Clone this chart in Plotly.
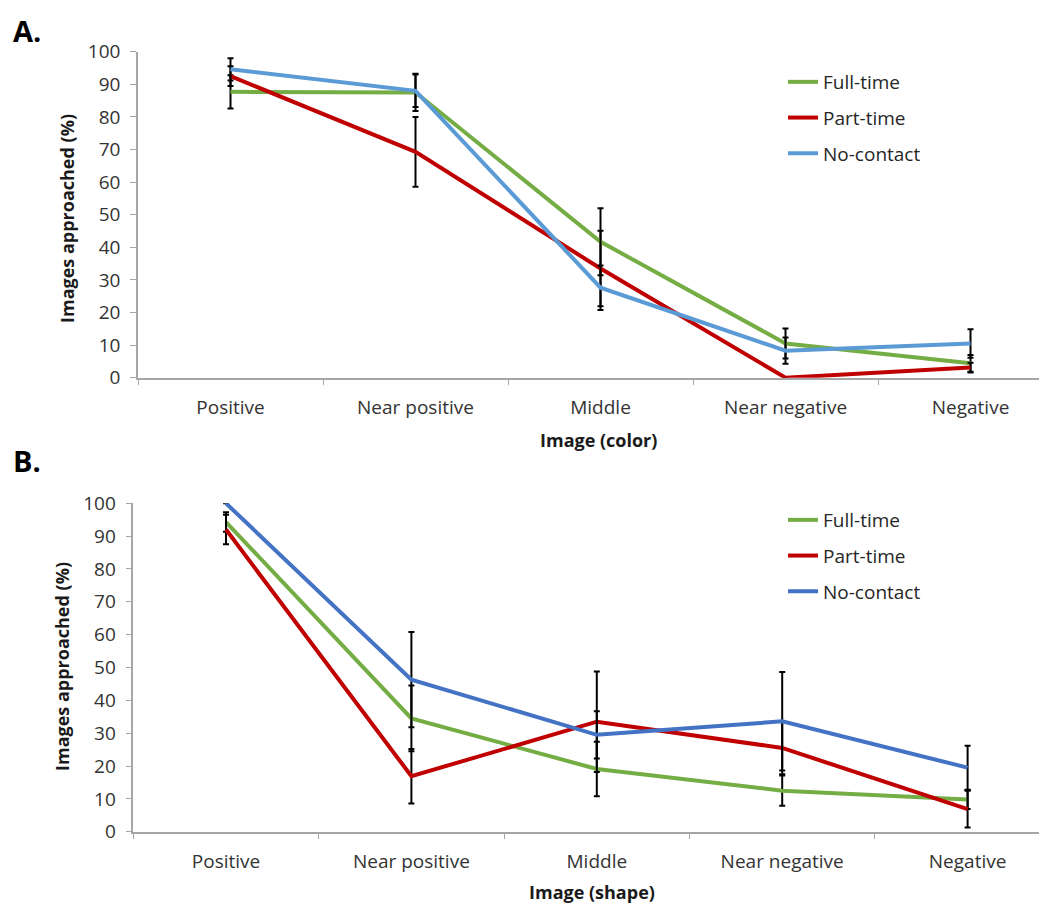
import plotly.graph_objects as go

categories = ["Positive", "Near positive", "Middle", "Near negative", "Negative"]
series_names = ["Full-time", "Part-time", "No-contact"]

# Panel A (color)
a_full = [87.7, 87.5, 41.7, 10.5, 4.4]
a_part = [92.5, 69.3, 33.5, 0.0, 3.1]
a_none = [94.6, 88.0, 27.6, 8.3, 10.5]
a_full_err = [5.1, 5.7, 10.3, 4.6, 2.6]
a_part_err = [3.0, 10.7, 11.6, 0.0, 1.5]
a_none_err = [3.4, 5.0, 6.8, 4.0, 4.4]

# Panel B (shape)
b_full = [94.3, 34.5, 19.1, 12.5, 9.8]
b_part = [92.0, 16.9, 33.5, 25.5, 6.9]
b_none = [100.0, 46.3, 29.5, 33.6, 19.5]
b_full_err = [3.0, 10.0, 8.3, 4.6, 2.9]
b_part_err = [4.5, 8.3, 15.3, 8.0, 5.6]
b_none_err = [0.0, 14.5, 7.2, 15.0, 6.7]

y_ticks = [0, 10, 20, 30, 40, 50, 60, 70, 80, 90, 100]

GREEN = "#75AD45"
RED = "#C00000"
LBLUE = "#5B9BD5"
DBLUE = "#4472C4"
FONT = "Open Sans"

fig = go.Figure()

def add(vals, errs, name, color, xa, ya, legend):
    fig.add_trace(go.Scatter(
        x=categories, y=vals, name=name, mode="lines",
        line=dict(color=color, width=4),
        error_y=dict(type="data", array=errs, visible=True, color="black",
                     thickness=2, width=3),
        xaxis=xa, yaxis=ya, legend=legend, legendgroup=legend + name,
    ))

add(a_full, a_full_err, series_names[0], GREEN, "x", "y", "legend")
add(a_part, a_part_err, series_names[1], RED, "x", "y", "legend")
add(a_none, a_none_err, series_names[2], LBLUE, "x", "y", "legend")
add(b_full, b_full_err, series_names[0], GREEN, "x2", "y2", "legend2")
add(b_part, b_part_err, series_names[1], RED, "x2", "y2", "legend2")
add(b_none, b_none_err, series_names[2], DBLUE, "x2", "y2", "legend2")

W, H = 1047, 903
OFF = 8  # page body margin
axcol = "#A6A6A6"
tickfont = dict(family=FONT, size=19, color="#333333")

def px(v):
    return (v - OFF) / W

def py(v):
    return 1 - (v - OFF) / H

def xax(left, per):
    l = left - OFF
    return dict(domain=[l / W, 1], range=[-0.5, -0.5 + (W - l) / per],
                type="category", showline=True, linecolor=axcol, linewidth=1.5,
                ticks="outside", tickson="boundaries", ticklen=6, tickcolor=axcol,
                showgrid=False, zeroline=False, tickfont=tickfont,
                ticklabelstandoff=12, automargin=False, fixedrange=True)

def yax(top, bottom):
    return dict(domain=[py(bottom), py(top)], range=[0, 100],
                tickvals=y_ticks, showline=True, linecolor=axcol, linewidth=1.5,
                ticks="outside", ticklen=6, tickcolor=axcol, showgrid=False,
                zeroline=False, tickfont=tickfont, ticklabelstandoff=6,
                automargin=False)

legend_common = dict(font=dict(family=FONT, size=19, color="#262626"),
                     bgcolor="rgba(0,0,0,0)", itemwidth=30,
                     traceorder="grouped", tracegroupgap=8,
                     xanchor="left", yanchor="top")

fig.update_layout(
    width=W, height=H, margin=dict(l=0, r=0, t=0, b=0),
    paper_bgcolor="white", plot_bgcolor="white",
    xaxis=dict(xax(138, 185), anchor="y"), yaxis=dict(yax(51.7, 377.7), anchor="x"),
    xaxis2=dict(xax(133.3, 185.4), anchor="y2"),
    yaxis2=dict(yax(503.3, 831.7), anchor="x2"),
    legend=dict(legend_common, x=px(783), y=py(63)),
    legend2=dict(legend_common, x=px(783), y=py(501)),
    showlegend=True,
)

title_font = dict(family=FONT, size=18, color="#1a1a1a")
annots = [
    dict(text="<b>A.</b>", x=px(11), y=py(30), xanchor="left", yanchor="middle",
         font=dict(family=FONT, size=29, color="black")),
    dict(text="<b>B.</b>", x=px(11), y=py(460), xanchor="left", yanchor="middle",
         font=dict(family=FONT, size=29, color="black")),
    dict(text="<b>Image (color)</b>", x=px(598), y=py(440), xanchor="center",
         yanchor="middle", font=title_font),
    dict(text="<b>Image (shape)</b>", x=px(592), y=py(892), xanchor="center",
         yanchor="middle", font=title_font),
    dict(text="<b>Images approached (%)</b>", x=px(67), y=py(219), textangle=-90,
         xanchor="center", yanchor="middle", font=title_font),
    dict(text="<b>Images approached (%)</b>", x=px(62), y=py(667), textangle=-90,
         xanchor="center", yanchor="middle", font=title_font),
]
for a in annots:
    fig.add_annotation(xref="paper", yref="paper", showarrow=False, **a)

fig.write_html("out.html")
